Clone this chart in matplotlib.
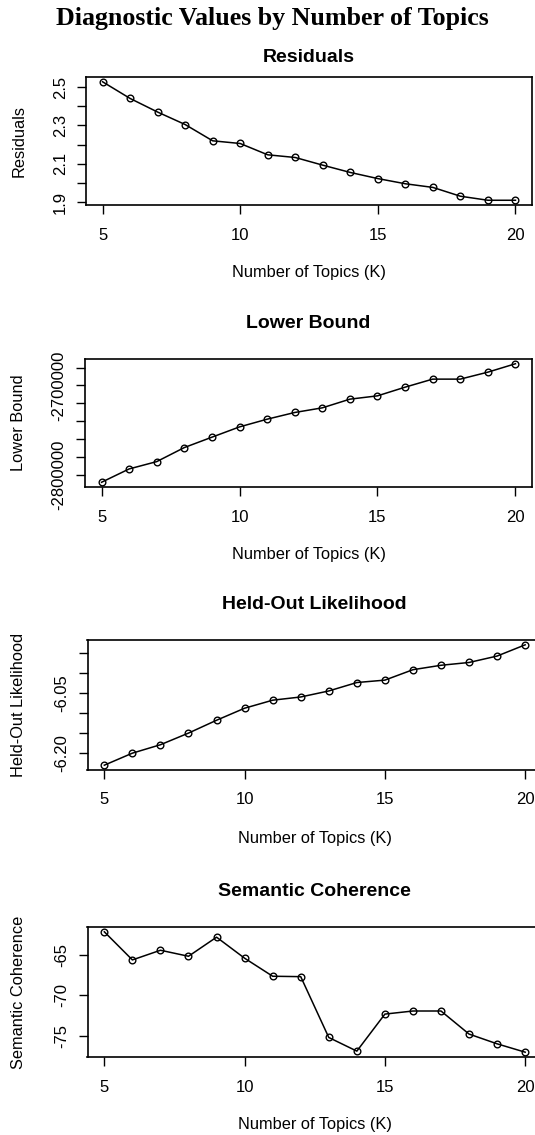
import matplotlib
matplotlib.use("Agg")
import matplotlib.pyplot as plt
import numpy as np

plt.rcParams['font.family'] = ['Liberation Sans', 'DejaVu Sans']

# number of topics
K = [5, 6, 7, 8, 9, 10, 11, 12, 13, 14, 15, 16, 17, 18, 19, 20]

residuals = [2.528, 2.441, 2.370, 2.305, 2.220, 2.206, 2.147, 2.133,
             2.093, 2.055, 2.023, 1.996, 1.977, 1.931, 1.910, 1.910]
lower_bound = [-2808200, -2793300, -2785100, -2769400, -2757800, -2746300,
               -2737700, -2730200, -2725000, -2715300, -2711600, -2701900,
               -2692900, -2692900, -2685100, -2675700]
heldout = [-6.230, -6.200, -6.179, -6.150, -6.118, -6.088, -6.068, -6.060,
           -6.045, -6.024, -6.018, -5.992, -5.981, -5.974, -5.958, -5.930]
semcoh = [-62.20, -65.66, -64.47, -65.21, -62.86, -65.45, -67.67, -67.72,
          -75.21, -76.89, -72.33, -71.95, -71.95, -74.79, -75.99, -77.02]

x_ticks = [5, 10, 15, 20]
res_ticks = [1.9, 2.0, 2.1, 2.2, 2.3, 2.4, 2.5]
res_labels = ['1.9', '', '2.1', '', '2.3', '', '2.5']
lb_ticks = [-2800000, -2780000, -2760000, -2740000, -2720000, -2700000, -2680000]
lb_labels = ['-2800000', '', '', '', '', '-2700000', '']
ho_ticks = [-6.20, -6.15, -6.10, -6.05, -6.00, -5.95]
ho_labels = ['-6.20', '', '', '-6.05', '', '']
sc_ticks = [-75, -70, -65]
sc_labels = ['-75', '-70', '-65']

W, H = 535, 1135
fig = plt.figure(figsize=(W / 100, H / 100), dpi=100)

# (left, right, top, bottom) in pixels
boxes = [(86, 532, 77, 205),
         (85, 532, 359, 487),
         (87.5, 542, 640, 770),
         (87.5, 542, 927, 1057)]
panels = [
    ("Residuals", "Residuals", residuals, res_ticks, res_labels, 15.5),
    ("Lower Bound", "Lower Bound", lower_bound, lb_ticks, lb_labels, 31),
    ("Held-Out Likelihood", "Held-Out Likelihood", heldout, ho_ticks, ho_labels, 31),
    ("Semantic Coherence", "Semantic Coherence", semcoh, sc_ticks, sc_labels, 31),
]

for (l, r, t, b), (title, ylab, vals, yt, yl, tpad) in zip(boxes, panels):
    ax = fig.add_axes([l / W, 1 - b / H, (r - l) / W, (b - t) / H])
    ax.plot(K, vals, color='black', lw=1.1, marker='o', ms=4.8,
            mfc='none', mec='black', mew=1.0)
    lo, hi = min(vals), max(vals)
    pad = (hi - lo) * 0.04
    ax.set_ylim(lo - pad, hi + pad)
    ax.set_xlim(4.4, 20.6)
    ax.set_xticks(x_ticks)
    ax.set_yticks(yt)
    ax.set_yticklabels(yl, rotation=90, va='center')
    ax.tick_params(axis='both', length=6.7, width=1.0, labelsize=12,
                   direction='out', color='black')
    ax.tick_params(axis='x', pad=9.5)
    ax.tick_params(axis='y', pad=6.5)
    for s in ax.spines.values():
        s.set_linewidth(1.2)
    ax.set_title(title, fontsize=14, fontweight='bold', pad=tpad * 0.72)
    ax.set_xlabel("Number of Topics (K)", fontsize=11.8, va='center')
    ax.xaxis.set_label_coords(0.5, -68 / (b - t))
    fig.text(19 / W, 1 - (t + b) / 2 / H, ylab, rotation=90, fontsize=11.8,
             ha='center', va='center')

fig.text(272 / W, 1 - 18 / H, "Diagnostic Values by Number of Topics",
         family=['Liberation Serif', 'DejaVu Serif'], fontweight='bold',
         fontsize=18.7, ha='center', va='center')

fig.savefig("out.png", dpi=100)
